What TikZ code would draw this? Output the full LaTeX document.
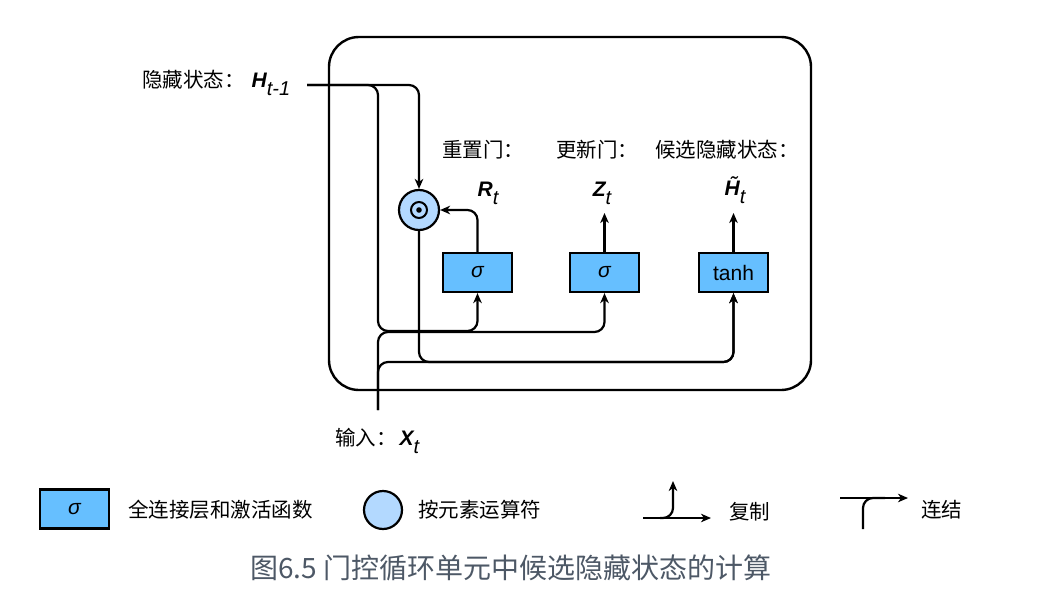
\documentclass[tikz,border=0pt]{standalone}
\usepackage{fontspec}
\setmainfont{Liberation Sans}
\newfontfamily\cjk{Noto Sans CJK SC}
\usetikzlibrary{arrows.meta}
\definecolor{boxblue}{RGB}{102,191,255}
\definecolor{circblue}{RGB}{179,217,255}
\definecolor{captc}{RGB}{77,88,102}
\newcommand{\bvar}[2]{{\fontsize{21}{21}\selectfont\bfseries\itshape #1}\raisebox{-8pt}{\fontsize{20}{20}\selectfont\itshape #2}}
\newcommand{\cjkt}[1]{{\cjk\fontsize{20.5}{20.5}\selectfont #1}}
\begin{document}
\begin{tikzpicture}[x=1pt,y=-1pt,
  conn/.style={line width=2.2pt, rounded corners=10pt},
  arr/.style={conn, -{Stealth[length=10pt,width=8.5pt,inset=3pt]}},
  fcbox/.style={draw, line width=2.2pt, fill=boxblue, minimum width=69pt, minimum height=39pt, inner sep=0pt, font=\fontsize{21}{21}\selectfont},
  opcirc/.style={draw, line width=2.2pt, circle, fill=circblue, inner sep=0pt},
  lab/.style={inner sep=0pt, anchor=west}]
\useasboundingbox (0,0) rectangle (1047,594);

% cell
\node[draw, line width=2.4pt, rounded corners=30pt, minimum width=482pt, minimum height=353pt, inner sep=0pt] (cell) at (570,213.5) {};

% operators and layers
\node[opcirc, minimum size=40pt] (odot) at (419,210) {};
\draw[line width=2pt] (odot.center) circle (8pt);
\fill (odot.center) circle (2.8pt);
\node[fcbox] (s1) at (477.5,272.5) {\itshape σ};
\node[fcbox] (s2) at (604.5,272.5) {\itshape σ};
\node[fcbox] (th) at (733.5,272.5) {tanh};

% labels
\node[lab] (hlab) at (142,83) {\cjkt{隐藏状态：}\hspace{7pt}\bvar{H}{t-1}};
\node[lab] (rlab) at (442,150) {\cjkt{重置门：}};
\node[lab] (zlab) at (556,150) {\cjkt{更新门：}};
\node[lab] (hclab) at (655,150) {\cjkt{候选隐藏状态：}};
\node[inner sep=0pt] (rt) at (488,193) {\bvar{R}{t}};
\node[inner sep=0pt] (zt) at (602,193) {\bvar{Z}{t}};
\node[inner sep=0pt] (ht) at (735,190) {\bvar{\~{H}}{t}};
\node[lab] (xlab) at (335,441) {\cjkt{输入：}\hspace{3pt}\bvar{X}{t}};

% coordinates
\coordinate (hin) at (307,85);
\coordinate (xin) at (378,410);
\coordinate (zout) at (604.5,213);
\coordinate (hout) at (733.5,213);

% connectors
\draw[arr] (hin) -| (378,331) -| (s1.south);
\draw[arr] (hin) -| (odot.north);
\draw[arr] (s1.north) |- (odot.east);
\draw[arr] (xin) -- (378,332) -| (s2.south);
\draw[arr] (xin) -- (378,362) -| (th.south);
\draw[arr] (odot.south) |- (733.5,362) -- (th.south);
\draw[arr] (s2.north) -- (zout);
\draw[arr] (th.north) -- (hout);

% legend
\node[fcbox] (lbox) at (74.5,509) {\itshape σ};
\node[lab] (lboxt) at (128,510) {{\cjk\fontsize{20.5}{20.5}\selectfont 全连接层和激活函数}};
\node[opcirc, minimum size=38pt] (lcirc) at (383,510) {};
\node[lab] (lcirct) at (418,510) {{\cjk\fontsize{20.5}{20.5}\selectfont 按元素运算符}};

\coordinate (cpa) at (643,518);
\coordinate (cpb) at (711,518);
\coordinate (cpc) at (660,518);
\coordinate (cpd) at (673,481);
\draw[arr] (cpa) -- (cpb);
\draw[arr] (cpc) -| (cpd);
\node[lab] (cpt) at (729,512) {{\cjk\fontsize{20.5}{20.5}\selectfont 复制}};

\coordinate (cca) at (840,498);
\coordinate (ccb) at (908,498);
\coordinate (ccc) at (863,529);
\coordinate (ccd) at (885,498);
\draw[arr] (cca) -- (ccb);
\draw[conn] (ccc) |- (ccd);
\node[lab] (cct) at (921,510) {{\cjk\fontsize{20.5}{20.5}\selectfont 连结}};

% caption
\node[inner sep=0pt, text=captc] (cap) at (511,568) {{\cjk\fontsize{28}{28}\selectfont 图6.5 门控循环单元中候选隐藏状态的计算}};
\end{tikzpicture}
\end{document}
